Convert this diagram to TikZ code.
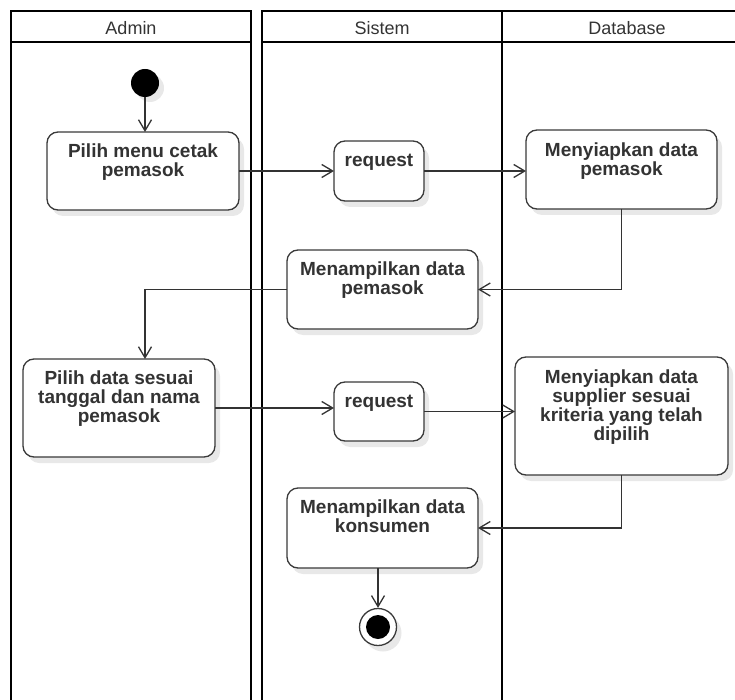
\documentclass[tikz,border=0pt]{standalone}
\usepackage{fontspec}
\setmainfont{Liberation Sans}
\usetikzlibrary{arrows.meta,shadows,calc}
\definecolor{ink}{HTML}{333333}
\definecolor{edge}{HTML}{3A3A3A}
\definecolor{shade}{HTML}{E8E8E8}

\begin{document}
\begin{tikzpicture}[x=1pt,y=-1pt,
  pool/.style={draw=black,line width=2pt},
  act/.style={draw=edge,line width=1.3pt,rounded corners=11pt,fill=white,
    inner sep=0pt,outer sep=0pt,
    drop shadow={shadow xshift=5pt,shadow yshift=-6pt,fill=shade,opacity=1}},
  lbl/.style={font=\bfseries\fontsize{19}{19}\selectfont,text=ink,align=center,
    inner sep=0pt,anchor=north,execute at begin node={\rule{0pt}{14pt}}},
  hdr/.style={font=\fontsize{18}{18}\selectfont,text=ink,anchor=base,inner sep=0pt},
  flow/.style={draw=ink,line width=1.3pt,-{Straight Barb[length=11pt,width=13pt]}},
]
\useasboundingbox (0,0) rectangle (735,700);
\clip (0,0) rectangle (735,700);

% swimlanes
\draw[pool] (11,720) -- (11,11) -- (251,11) -- (251,720);
\draw[pool] (11,42) -- (251,42);
\draw[pool] (262,720) -- (262,11) -- (745,11);
\draw[pool] (262,42) -- (745,42);
\draw[pool] (502,11) -- (502,720);
\node[hdr] (hA) at (131,35) {Admin};
\node[hdr] (hS) at (382,35) {Sistem};
\node[hdr] (hD) at (627,35) {Database};

% start and end
\node[circle,fill=black,minimum size=28pt,inner sep=0pt,
  drop shadow={shadow xshift=5pt,shadow yshift=-5pt,fill=shade,opacity=1}] (start) at (145,83) {};
\node[circle,draw=edge,line width=1.3pt,fill=white,minimum size=37pt,inner sep=0pt,
  drop shadow={shadow xshift=5pt,shadow yshift=-6pt,fill=shade,opacity=1}] (stop) at (378,627) {};
\node[circle,fill=black,minimum size=24pt,inner sep=0pt] (stopcore) at (stop) {};

% activities
\node[act,minimum width=192pt,minimum height=78pt] (b1) at (143,171) {};
\node[act,minimum width=90pt,minimum height=60pt] (r1) at (379,171) {};
\node[act,minimum width=191pt,minimum height=79pt] (m1) at (621.5,169.5) {};
\node[act,minimum width=191pt,minimum height=79pt] (p1) at (382.5,289.5) {};
\node[act,minimum width=192pt,minimum height=98pt] (d2) at (119,408) {};
\node[act,minimum width=90pt,minimum height=59pt] (r2) at (379,411.5) {};
\node[act,minimum width=213pt,minimum height=118pt] (m2) at (621.5,416) {};
\node[act,minimum width=191pt,minimum height=80pt] (k1) at (382.5,528) {};

\node[lbl] (tb1) at ([yshift=-12pt]b1.north) {Pilih menu cetak\\pemasok};
\node[lbl] (tr1) at ([yshift=-11pt]r1.north) {request};
\node[lbl] (tm1) at ([yshift=-13pt]m1.north) {Menyiapkan data\\pemasok};
\node[lbl] (tp1) at ([yshift=-12pt]p1.north) {Menampilkan data\\pemasok};
\node[lbl] (td2) at ([yshift=-12pt]d2.north) {Pilih data sesuai\\tanggal dan nama\\pemasok};
\node[lbl] (tr2) at ([yshift=-11pt]r2.north) {request};
\node[lbl] (tm2) at ([yshift=-13pt]m2.north) {Menyiapkan data\\supplier sesuai\\kriteria yang telah\\dipilih};
\node[lbl] (tk1) at ([yshift=-12pt]k1.north) {Menampilkan data\\konsumen};

% control flow
\draw[flow] (start.south) -- (start.south |- b1.north);
\draw[flow] (b1.east) -- (b1.east -| r1.west);
\draw[flow] (r1.east) -- (r1.east -| m1.west);
\draw[flow] (m1.south) |- (p1.east);
\draw[flow] (p1.west) -| (start.south |- d2.north);
\draw[flow] (d2.east) -- (d2.east -| r2.west);
\draw[flow] (r2.east) -- (r2.east -| m2.west);
\draw[flow] (m2.south) |- (k1.east);
\draw[flow] (k1.south -| stop.north) -- (stop.north);
\end{tikzpicture}
\end{document}
